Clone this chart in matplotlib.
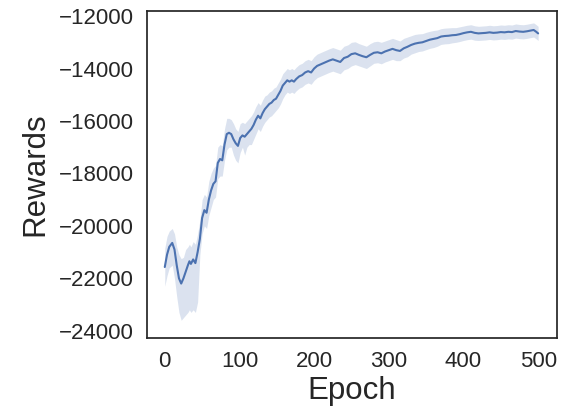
import matplotlib
matplotlib.use("Agg")
import matplotlib.pyplot as plt
import seaborn as sns

sns.set_theme(style="white")
plt.rcParams['font.family'] = ['Liberation Sans', 'DejaVu Sans']

epochs = [0, 3, 6, 10, 13, 16, 19, 22, 25, 28, 31, 33, 35, 38, 41, 44, 47, 50, 53, 56, 59, 62, 65, 68, 71, 74, 77, 80, 83, 86, 89, 92, 95, 98, 101, 104, 107, 110, 113, 116, 119, 122, 125, 128, 131, 134, 137, 140, 143, 146, 149, 152, 155, 158, 161, 164, 167, 170, 173, 176, 180, 184, 188, 192, 196, 200, 204, 208, 212, 216, 220, 225, 230, 235, 240, 245, 250, 255, 260, 265, 270, 275, 280, 285, 290, 295, 300, 305, 310, 315, 320, 325, 330, 335, 340, 345, 350, 355, 360, 365, 370, 375, 380, 385, 390, 395, 400, 405, 410, 415, 420, 425, 430, 435, 440, 445, 450, 455, 460, 465, 470, 475, 480, 485, 490, 494, 497, 500]

reward_mean = [-21570, -21100, -20800, -20650, -20900, -21500, -22000, -22200, -22000, -21750, -21500, -21350, -21450, -21280, -21420, -21000, -20500, -19700, -19400, -19500, -19000, -18650, -18400, -18300, -17600, -17450, -17500, -16900, -16500, -16450, -16500, -16700, -16850, -16950, -16650, -16550, -16600, -16500, -16400, -16300, -16150, -15950, -15800, -15900, -15700, -15550, -15450, -15350, -15300, -15200, -15150, -15000, -14850, -14650, -14550, -14450, -14500, -14450, -14500, -14400, -14300, -14250, -14150, -14100, -14150, -14000, -13900, -13850, -13800, -13750, -13700, -13650, -13700, -13750, -13600, -13550, -13450, -13420, -13480, -13530, -13570, -13480, -13400, -13380, -13420, -13350, -13300, -13250, -13300, -13330, -13230, -13170, -13100, -13050, -13020, -13000, -12950, -12900, -12870, -12840, -12780, -12760, -12750, -12730, -12720, -12690, -12650, -12620, -12600, -12640, -12660, -12650, -12640, -12620, -12640, -12630, -12610, -12620, -12600, -12610, -12570, -12590, -12600, -12580, -12550, -12530, -12590, -12660]

reward_low = [-22300, -21900, -21600, -21500, -22000, -22700, -23300, -23600, -23500, -23400, -23300, -23200, -23300, -23200, -23300, -22900, -21100, -20300, -20000, -20100, -19600, -19300, -19000, -18900, -18200, -18100, -18100, -17500, -17100, -17000, -17000, -17300, -17500, -17600, -17200, -17000, -17300, -17000, -16900, -16900, -16700, -16500, -16300, -16400, -16200, -16050, -15950, -15850, -15800, -15700, -15600, -15500, -15350, -15150, -15000, -14900, -14950, -14900, -14950, -14850, -14750, -14700, -14600, -14550, -14600, -14450, -14350, -14300, -14250, -14200, -14150, -14100, -14150, -14200, -14050, -14000, -13900, -13850, -13900, -13950, -14000, -13900, -13800, -13780, -13820, -13750, -13700, -13650, -13700, -13700, -13600, -13550, -13450, -13400, -13350, -13330, -13280, -13230, -13200, -13150, -13080, -13060, -13050, -13020, -13000, -12970, -12930, -12900, -12880, -12920, -12930, -12920, -12910, -12890, -12910, -12900, -12880, -12890, -12870, -12880, -12840, -12860, -12870, -12850, -12820, -12800, -12860, -12930]

reward_high = [-20850, -20400, -20200, -20100, -20300, -20800, -21100, -21250, -21200, -20900, -20800, -20700, -20800, -20600, -20700, -20300, -19800, -19000, -18800, -18900, -18300, -18000, -17800, -17700, -17000, -16900, -16950, -16300, -15900, -15900, -15950, -16100, -16300, -16400, -16100, -16050, -16100, -16000, -15900, -15800, -15650, -15450, -15300, -15400, -15200, -15050, -15000, -14900, -14850, -14750, -14700, -14550, -14400, -14200, -14100, -14000, -14050, -14000, -14050, -13950, -13850, -13800, -13700, -13650, -13700, -13550, -13450, -13400, -13350, -13300, -13250, -13200, -13250, -13300, -13150, -13100, -13000, -12980, -13050, -13100, -13150, -13050, -12980, -12960, -13000, -12950, -12900, -12850, -12900, -12950, -12850, -12800, -12750, -12700, -12680, -12670, -12620, -12580, -12550, -12530, -12480, -12460, -12450, -12440, -12440, -12410, -12380, -12350, -12330, -12370, -12390, -12380, -12370, -12350, -12370, -12360, -12340, -12350, -12330, -12340, -12300, -12320, -12330, -12310, -12280, -12260, -12320, -12390]

x_ticks = [0, 100, 200, 300, 400, 500]
y_ticks = [-24000, -22000, -20000, -18000, -16000, -14000, -12000]

color = "#4c72b0"
fig = plt.figure(figsize=(5.67, 4.11), dpi=100)
ax = fig.add_axes([0.259, 0.178, 0.723, 0.795])
ax.fill_between(epochs, reward_low, reward_high, color=color, alpha=0.2, linewidth=0)
ax.plot(epochs, reward_mean, color=color, linewidth=1.5)

ax.set_xlim(-24, 525)
ax.set_ylim(-24270, -11810)
ax.set_xticks(x_ticks)
ax.set_yticks(y_ticks)
ax.set_yticklabels([f"\u2212{abs(v)}" for v in y_ticks])
ax.tick_params(labelsize=16, colors="0.15")
ax.set_xlabel("Epoch", fontsize=22.5, color="0.15", labelpad=3)
ax.set_ylabel("Rewards", fontsize=22.5, color="0.15", labelpad=6)
for s in ax.spines.values():
    s.set_color("0.15")
    s.set_linewidth(1.25)

fig.savefig("out.png", dpi=100)
